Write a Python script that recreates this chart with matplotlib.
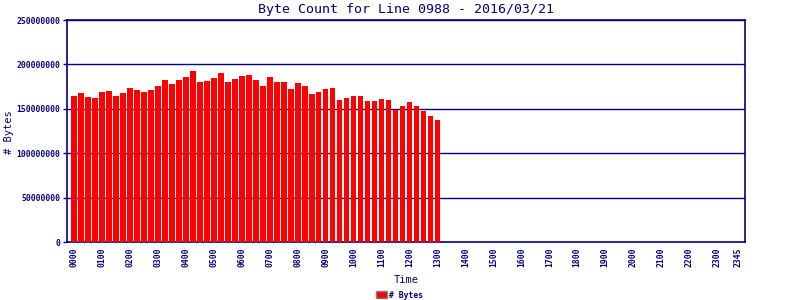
import matplotlib
matplotlib.use("Agg")
import matplotlib.pyplot as plt
from matplotlib.patches import Patch

title = "Byte Count for Line 0988 - 2016/03/21"
tick_labels = ["0000", "0100", "0200", "0300", "0400", "0500", "0600", "0700",
               "0800", "0900", "1000", "1100", "1200", "1300", "1400", "1500",
               "1600", "1700", "1800", "1900", "2000", "2100", "2200", "2300", "2345"]
tick_slots = [0, 4, 8, 12, 16, 20, 24, 28, 32, 36, 40, 44, 48, 52, 56, 60,
              64, 68, 72, 76, 80, 84, 88, 92, 95]
# bytes per 15-minute slot, in millions, from 0000 to 1300
byte_millions = [164.8, 167.8, 163.3, 162.2, 168.9, 170.0, 164.8, 167.8, 173.4, 171.2,
                 168.9, 171.2, 175.7, 182.4, 177.9, 182.4, 185.8, 192.6, 180.2, 181.3,
                 184.7, 190.3, 180.2, 183.6, 186.9, 188.1, 182.4, 175.7, 185.8, 180.2,
                 180.2, 172.3, 179.0, 175.7, 166.7, 168.9, 172.3, 173.4, 159.9, 162.2,
                 164.4, 164.4, 158.8, 158.8, 161.0, 159.9, 148.6, 153.2, 157.7, 153.2,
                 147.5, 141.9, 137.4]
y_ticks = [0, 50000000, 100000000, 150000000, 200000000, 250000000]

navy = "#000080"
red = "#FF0000"
mono = "DejaVu Sans Mono"

fig = plt.figure(figsize=(8, 3), dpi=100)
ax = fig.add_axes([67/800, 58/300, 678/800, 222/300])

slots = list(range(len(byte_millions)))
values = [v * 1e6 for v in byte_millions]
ax.bar(slots, values, width=0.82, color=red, zorder=3)

ax.set_xlim(-1, 96)
ax.set_ylim(0, 250000000)
ax.set_yticks(y_ticks)
ax.set_yticklabels([str(v) for v in y_ticks], fontfamily=mono, fontsize=5.8,
                   fontweight="bold", color=navy)
ax.set_xticks(tick_slots)
ax.set_xticklabels(tick_labels, rotation=90, fontfamily=mono, fontsize=5.8,
                   fontweight="bold", color=navy)
ax.tick_params(axis="y", length=3, color=navy, width=1, pad=2)
ax.tick_params(axis="x", length=0, pad=4)
for v in y_ticks[1:]:
    ax.axhline(v, color=navy, linewidth=1, zorder=2)
for s in ax.spines.values():
    s.set_color(navy)
    s.set_linewidth(1.2)

ax.set_xlabel("Time", fontfamily=mono, fontsize=7.5, color=navy, labelpad=6)
fig.text(9/800, 1 - 132/300, "# Bytes", rotation=90, ha="center", va="center",
         fontfamily=mono, fontsize=7.5, color=navy)
fig.text(406/800, 1 - 9/300, title, ha="center", va="center",
         fontfamily=mono, fontsize=9.5, color=navy)

handle = Patch(facecolor=red, edgecolor="#808080", linewidth=1, label="# Bytes")
fig.legend(handles=[handle], loc="center", bbox_to_anchor=(400/800, 5/300),
           frameon=False, handlelength=1.3, handleheight=1.0, handletextpad=0.3,
           prop={"family": mono, "size": 5.8, "weight": "bold"}, labelcolor=navy,
           borderpad=0, borderaxespad=0)

fig.savefig("out.png", dpi=100)
